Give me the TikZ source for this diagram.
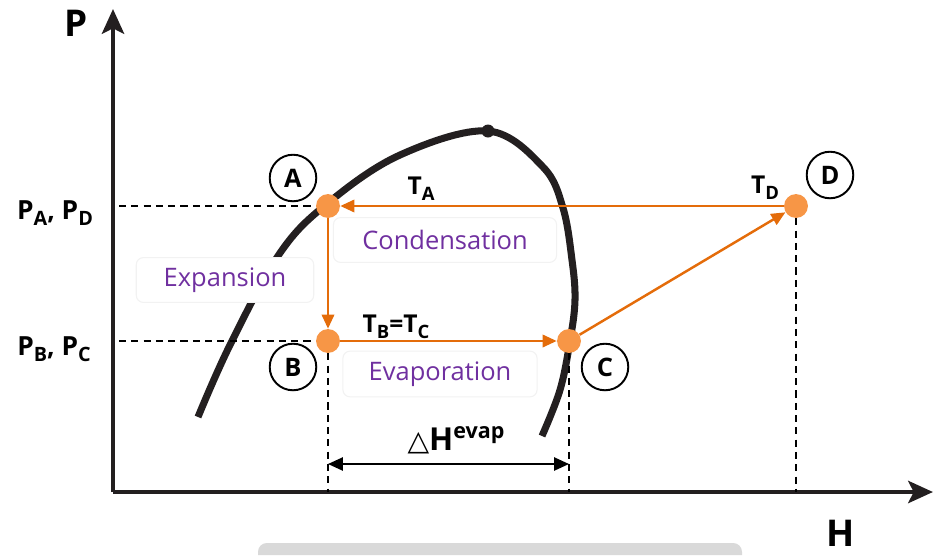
\documentclass[tikz,border=0pt]{standalone}
\usepackage{fontspec}
\usepackage{graphicx}
\setmainfont{Open Sans}
\newfontfamily\dejavu{DejaVu Sans}
\usetikzlibrary{arrows.meta}
\definecolor{dom}{HTML}{231F20}
\definecolor{orpt}{HTML}{F79646}
\definecolor{orln}{HTML}{E46C0A}
\definecolor{purp}{HTML}{7030A0}
\definecolor{barg}{HTML}{D9D9D9}
\definecolor{boxln}{HTML}{F2F2F2}
\newcommand\lowsub[1]{\raisebox{-0.42ex}{\scalebox{0.75}{#1}}}
\begin{document}
\begin{tikzpicture}[x=0.02cm,y=-0.02cm,
  axis/.style={line width=2.8pt, draw=dom, -{Stealth[length=14pt,width=12.5pt,inset=3pt]}},
  guide/.style={line width=0.85pt, dash pattern=on 4pt off 3pt},
  ptdot/.style={circle, fill=orpt, minimum size=13.6pt, inner sep=0pt},
  flow/.style={draw=orln, line width=1.4pt, -{Triangle[length=8pt,width=7pt]}},
  tag/.style={circle, draw=black, line width=1.1pt, minimum size=26.5pt, inner sep=0pt, font=\fontsize{14.5}{14.5}\selectfont\bfseries},
  proc/.style={draw=boxln, fill=white, rounded corners=4pt, line width=0.6pt, text=purp, font=\fontsize{14.5}{15}\selectfont, inner sep=0pt},
  lbl/.style={font=\fontsize{14}{14}\selectfont\bfseries, inner sep=0pt},
  plbl/.style={font=\fontsize{15}{15}\selectfont\bfseries, inner sep=0pt},
  axlbl/.style={font=\fontsize{21}{21}\selectfont\bfseries, inner sep=0pt}
]
\useasboundingbox (0,0) rectangle (934,555);

% bottom grey bar
\fill[barg] (258,555) [rounded corners=5pt] -- (258,543) -- (742,543) [sharp corners] -- (742,555) -- cycle;

% axes
\coordinate (O) at (113,492);
\coordinate (Ytip) at (113,9);
\coordinate (Xtip) at (933,492);
\draw[axis] (O) -- (Ytip);
\draw[axis] (O) -- (Xtip);
\node[axlbl] (Plbl) at (76,23) {P};
\node[axlbl] (Hlbl) at (841,533) {H};

% dome
\draw[line width=4pt, dom] plot[smooth, tension=0.6] coordinates {(198,417) (230,345) (280,253) (328,203) (400,155) (488,131) (543,167) (563,208) (572,260) (575,300) (570,341) (560,390) (542,436)};
\fill[dom] (488,131) circle (6.5);

% process boxes (over the dome)
\node[proc, minimum width=101pt, minimum height=25.5pt] (exp) at (225,280) {Expansion};
\node[proc, minimum width=127pt, minimum height=25.5pt] (cond) at (445,240) {Condensation};
\node[proc, minimum width=110.5pt, minimum height=26pt] (evap) at (440,374) {Evaporation};

% state points
\node[ptdot] (A) at (328,206) {};
\node[ptdot] (B) at (328,341) {};
\node[ptdot] (C) at (569,341) {};
\node[ptdot] (D) at (796,206) {};

% guides
\draw[guide] (A -| 119,0) -- (A);
\draw[guide] (B -| 119,0) -- (B);
\draw[guide] (B) -- (B |- O);
\draw[guide] (C) -- (C |- O);
\draw[guide] (D) -- (D |- O);

% cycle arrows
\draw[flow] (D) -- (A);
\draw[flow] (A) -- (B);
\draw[flow] (B) -- (C);
\draw[flow] (C) -- (D);

% tags
\node[tag] (tA) at (293,178) {A};
\node[tag] (tB) at (293,367) {B};
\node[tag] (tC) at (605,367) {C};
\node[tag] (tD) at (830,175) {D};

% temperature labels
\node[lbl] (TA) at (421,189) {T\lowsub{A}};
\node[lbl] (TD) at (765,188) {T\lowsub{D}};
\node[lbl] (TBC) at (396,327) {T\lowsub{B}=T\lowsub{C}};

% pressure labels
\node[plbl] (PAD) at (55,213) {P\lowsub{A}, P\lowsub{D}};
\node[plbl] (PBC) at (54,349) {P\lowsub{B}, P\lowsub{C}};

% delta H
\coordinate (h1) at (B |- 0,464);
\coordinate (h2) at (C |- 0,464);
\draw[line width=1.1pt, {Triangle[length=8.5pt,width=7.5pt]}-{Triangle[length=8.5pt,width=7.5pt]}] (h1) -- (h2);
\node[inner sep=0pt, font=\fontsize{18}{18}\selectfont\bfseries] (dH) at (456,440) {{\dejavu\fontsize{16}{16}\selectfont △}H\raisebox{0.72ex}{\scalebox{0.68}{evap}}};
\end{tikzpicture}
\end{document}
